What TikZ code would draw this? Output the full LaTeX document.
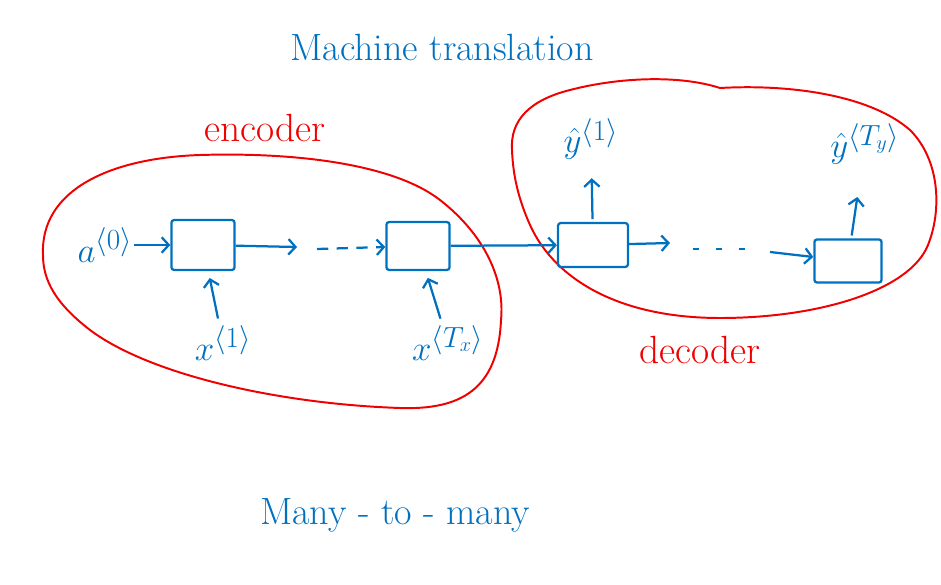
\documentclass[tikz,border=0pt]{standalone}
\usetikzlibrary{arrows.meta}
\definecolor{inkblue}{RGB}{0,112,192}
\definecolor{inkred}{RGB}{240,0,0}

\begin{document}
\begin{tikzpicture}[
    x=0.025cm, y=-0.025cm,
    cell/.style={
        rectangle,
        draw=inkblue,
        line width=1.6pt,
        rounded corners=2pt,
        minimum width=1.58cm,
        minimum height=1.25cm
    },
    lbl/.style={text=inkblue, inner sep=1pt, font=\fontsize{28}{32}\selectfont},
    title/.style={text=inkblue, font=\fontsize{27}{32}\selectfont},
    part/.style={text=inkred, font=\fontsize{28}{32}\selectfont},
    blob/.style={draw=inkred, line width=1.4pt},
    flow/.style={-{Straight Barb[length=5pt, width=11pt]}, inkblue, line width=1.6pt}
]
    \useasboundingbox (0,0) rectangle (941,585);

    % Titles
    \node[title] (title) at (442,47) {Machine translation};
    \node[title] (kind) at (395,515) {Many - to - many};
    \node[part] (enclbl) at (265,128) {encoder};
    \node[part] (declbl) at (700,350) {decoder};

    % Encoder outline
    \draw[blob] (43,255) .. controls (40,190) and (110,158) .. (200,155)
        .. controls (300,152) and (395,165) .. (440,200)
        .. controls (485,235) and (505,280) .. (501,320)
        .. controls (498,390) and (460,410) .. (400,408)
        .. controls (280,404) and (150,375) .. (90,330)
        .. controls (55,303) and (43,280) .. (43,255) -- cycle;
    % Decoder outline
    \draw[blob] (512,150) .. controls (510,120) and (530,100) .. (570,90)
        .. controls (620,77) and (680,75) .. (720,88)
        .. controls (790,84) and (870,95) .. (910,130)
        .. controls (940,160) and (942,210) .. (928,245)
        .. controls (910,290) and (820,318) .. (720,318)
        .. controls (620,318) and (555,280) .. (530,225)
        .. controls (518,198) and (513,175) .. (512,150) -- cycle;

    % Encoder cells
    \node[cell] (enc1) at (203,245) {};
    \node[cell, minimum height=1.2cm] (enc2) at (418,246) {};
    \node[lbl] (a0) at (105,245) {$a^{\langle 0\rangle}$};
    \node[lbl] (x1) at (223,343) {$x^{\langle 1\rangle}$};
    \node[lbl] (xT) at (448,343) {$x^{\langle T_x\rangle}$};

    % Decoder cells
    \node[cell, minimum width=1.75cm, minimum height=1.1cm] (dec1) at (593,245) {};
    \node[cell, minimum width=1.68cm, minimum height=1.08cm] (dec2) at (848,261) {};
    \node[lbl] (y1) at (591,139) {$\hat{y}^{\langle 1\rangle}$};
    \node[lbl] (yT) at (865,144) {$\hat{y}^{\langle T_y\rangle}$};

    % Free ends of the chains
    \coordinate (encgap) at (297,247);
    \coordinate (encdots) at (317,249);
    \coordinate (decgap) at (670,243);
    \coordinate (decdotsA) at (693,249);
    \coordinate (decdotsB) at (745,249);
    \coordinate (decin) at (770,252);

    % Encoder flow
    \draw[flow] (a0) -- (enc1);
    \draw[flow] (enc1) -- (encgap);
    \draw[flow, dash pattern=on 8pt off 6pt] (encdots) -- (enc2);
    \draw[flow, shorten <=4pt, shorten >=5pt] (x1) -- (enc1);
    \draw[flow, shorten <=4pt, shorten >=5pt] (xT) -- (enc2);
    \draw[flow] (enc2) -- (dec1);

    % Decoder flow
    \draw[flow] (dec1) -- (decgap);
    \draw[inkblue, line width=1.6pt, dash pattern=on 4pt off 12.5pt] (decdotsA) -- (decdotsB);
    \draw[flow] (decin) -- (dec2);
    \draw[flow, shorten <=2pt, shorten >=12pt] (dec1) -- (y1);
    \draw[flow, shorten <=2pt, shorten >=22pt] (dec2) -- (yT);
\end{tikzpicture}
\end{document}
